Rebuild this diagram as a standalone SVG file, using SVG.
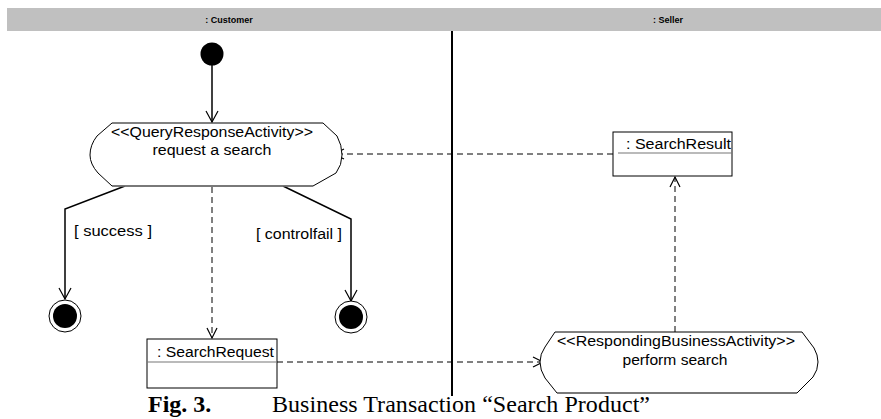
<svg xmlns="http://www.w3.org/2000/svg" width="881" height="419" viewBox="0 0 881 419">
  <style>
    .lbl { font-family: "Liberation Sans", Arial, sans-serif; font-size: 14px; fill: #000; }
    .hdr { font-family: "Liberation Sans Narrow", "Liberation Sans", Arial, sans-serif; font-size: 9px; font-weight: bold; fill: #000; }
    .cap { font-family: "Liberation Serif", "Times New Roman", serif; font-size: 24px; fill: #000; }
    .shape { fill: #fff; stroke: #000; stroke-width: 1; }
    .flow { fill: none; stroke: #000; stroke-width: 1.5; }
    .obj { fill: none; stroke: #000; stroke-width: 1; stroke-dasharray: 6 4; }
    .head { fill: none; stroke: #000; stroke-width: 1.2; }
  </style>

  <!-- swimlane header and partition -->
  <g id="lanes">
    <rect x="7" y="8" width="874" height="23" fill="#c0c0c0"/>
    <text class="hdr" x="229" y="22.5" text-anchor="middle">: Customer</text>
    <text class="hdr" x="668" y="22.5" text-anchor="middle">: Seller</text>
    <line x1="452" y1="31" x2="452" y2="396" stroke="#000" stroke-width="2"/>
  </g>

  <!-- connectors -->
  <g id="connectors">
    <!-- control flow: start to request -->
    <line class="flow" x1="212" y1="64" x2="212" y2="122"/>
    <polyline class="head" points="206,111 212,122 218,111"/>
    <!-- success branch -->
    <polyline class="flow" points="125,186 65,209 65,299"/>
    <polyline class="head" points="59,288 65,299 71,288"/>
    <!-- controlfail branch -->
    <polyline class="flow" points="283,186 351,219 351,301"/>
    <polyline class="head" points="345,290 351,301 357,290"/>
    <!-- object flow: request -> SearchRequest -->
    <line class="obj" x1="212" y1="187" x2="212" y2="338"/>
    <polyline class="head" points="207,328 212,338 217,328"/>
    <!-- object flow: SearchRequest -> perform search -->
    <line class="obj" x1="277" y1="362" x2="543" y2="362"/>
    <polyline class="head" points="533,357 543,362 533,367"/>
    <!-- object flow: perform search -> SearchResult -->
    <line class="obj" x1="675" y1="332" x2="675" y2="177"/>
    <polyline class="head" points="670,187 675,177 680,187"/>
    <!-- object flow: SearchResult -> request -->
    <line class="obj" x1="613" y1="154" x2="334" y2="154"/>
    <polyline class="head" points="344,149 334,154 344,159"/>
  </g>

  <g id="start">
    <circle cx="212" cy="54" r="11.5" fill="#000"/>
  </g>

  <g id="requestSearch">
    <path class="shape" d="M112,123 L323,123 L337,136 Q342,145 342,155 Q342,165 336,173 L313,186 L112,186 L98,173 Q90,164 90,155 Q90,145 97,136 Z"/>
    <line x1="112" y1="186" x2="313" y2="186" stroke="#777" stroke-width="1.5"/>
    <text class="lbl" x="212" y="137" text-anchor="middle" textLength="202" lengthAdjust="spacingAndGlyphs">&lt;&lt;QueryResponseActivity&gt;&gt;</text>
    <text class="lbl" x="212" y="155" text-anchor="middle" textLength="119" lengthAdjust="spacingAndGlyphs">request a search</text>
  </g>

  <g id="guardSuccess">
    <text class="lbl" x="74" y="236" textLength="78" lengthAdjust="spacingAndGlyphs">[ success ]</text>
  </g>
  <g id="guardControlfail">
    <text class="lbl" x="256" y="239" textLength="86" lengthAdjust="spacingAndGlyphs">[ controlfail ]</text>
  </g>

  <g id="endSuccess">
    <circle cx="65" cy="316" r="16" fill="#fff" stroke="#000" stroke-width="1"/>
    <circle cx="65" cy="316" r="12" fill="#000"/>
  </g>
  <g id="endControlfail">
    <circle cx="351" cy="317" r="16" fill="#fff" stroke="#000" stroke-width="1"/>
    <circle cx="351" cy="317" r="12" fill="#000"/>
  </g>

  <g id="searchRequest">
    <rect class="shape" x="147" y="339" width="130" height="49"/>
    <line x1="147" y1="362" x2="277" y2="362" stroke="#777" stroke-width="1.2"/>
    <text class="lbl" x="157" y="357" textLength="117" lengthAdjust="spacingAndGlyphs">: SearchRequest</text>
  </g>

  <g id="searchResult">
    <rect class="shape" x="613" y="132" width="119" height="44"/>
    <line x1="618" y1="153" x2="732" y2="153" stroke="#777" stroke-width="1.2"/>
    <text class="lbl" x="626" y="149" textLength="105" lengthAdjust="spacingAndGlyphs">: SearchResult</text>
  </g>

  <g id="performSearch">
    <path class="shape" d="M555,332 L802,332 L814,348 Q818,355 818,362 Q818,370 813,377 L797,393 L557,393 L545,378 Q540,370 540,362 Q540,354 545,347 Z"/>
    <line x1="557" y1="393" x2="797" y2="393" stroke="#777" stroke-width="1.5"/>
    <text class="lbl" x="676" y="346" text-anchor="middle" textLength="238" lengthAdjust="spacingAndGlyphs">&lt;&lt;RespondingBusinessActivity&gt;&gt;</text>
    <text class="lbl" x="675" y="365" text-anchor="middle" textLength="105" lengthAdjust="spacingAndGlyphs">perform search</text>
  </g>

  <g id="caption">
    <text class="cap" x="148" y="412"><tspan font-weight="bold">Fig. 3.</tspan><tspan x="272" textLength="378" lengthAdjust="spacing">Business Transaction “Search Product”</tspan></text>
  </g>
</svg>
